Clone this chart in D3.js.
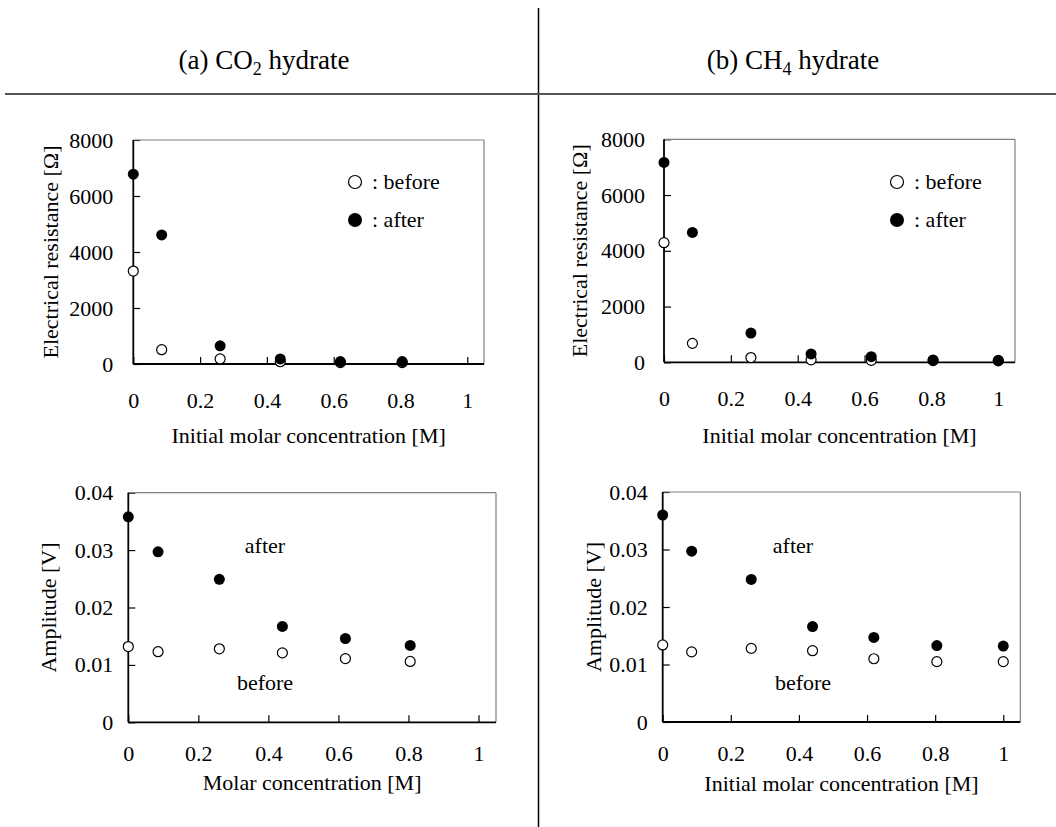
<!doctype html>
<html lang="en">
<head>
  <meta charset="utf-8">
  <title>Hydrate resistance and amplitude</title>
  <script type="text/javascript" src="https://cdnjs.cloudflare.com/ajax/libs/d3/7.8.5/d3.min.js"></script>
  <style>
    body { margin: 0; background: #fff; }
    text { font-family: "Liberation Serif", "Times New Roman", serif; fill: #000; }
  </style>
</head>
<body>
  <svg width="1056" height="827" id="svg"></svg>

<script type="text/javascript">

	// concentrations [M]
	var concA = [0, 0.085, 0.26, 0.44, 0.62, 0.805];
	var concB = [0, 0.085, 0.26, 0.44, 0.62, 0.805, 1.0];

	// electrical resistance [ohm]
	var resCO2Before = [3320, 510, 180, 80, 50, 50];
	var resCO2After  = [6780, 4610, 650, 180, 85, 85];
	var resCH4Before = [4290, 680, 170, 90, 70, 60, 50];
	var resCH4After  = [7170, 4660, 1050, 300, 200, 85, 70];

	// amplitude [V]
	var ampCO2Before = [0.0132, 0.0123, 0.0128, 0.0121, 0.0111, 0.0106];
	var ampCO2After  = [0.0358, 0.0297, 0.0249, 0.0167, 0.0146, 0.0134];
	var ampCH4Before = [0.0134, 0.0122, 0.0128, 0.0124, 0.0110, 0.0105, 0.0105];
	var ampCH4After  = [0.0360, 0.0297, 0.0248, 0.0166, 0.0147, 0.0133, 0.0132];

	var xTicks = [0, 0.2, 0.4, 0.6, 0.8, 1];
	var xTickLabels = ['0', '0.2', '0.4', '0.6', '0.8', '1'];
	var resTicks = [0, 2000, 4000, 6000, 8000];
	var ampTicks = [0, 0.01, 0.02, 0.03, 0.04];
	var ampTickLabels = ['0', '0.01', '0.02', '0.03', '0.04'];

	var svg = d3.select('#svg');

	// panel frames
	svg.append('line').attr('x1', 538.5).attr('x2', 538.5).attr('y1', 8).attr('y2', 827)
		.attr('stroke', '#000').attr('stroke-width', 1.5);
	svg.append('line').attr('x1', 5).attr('x2', 1056).attr('y1', 94).attr('y2', 94)
		.attr('stroke', '#555').attr('stroke-width', 2);

	function header(cx, pre, sub, post) {
		var t = svg.append('text').attr('x', cx).attr('y', 69)
			.attr('text-anchor', 'middle').style('font-size', '27px');
		t.append('tspan').text(pre);
		t.append('tspan').attr('dy', 6).style('font-size', '18px').text(sub);
		t.append('tspan').attr('dy', -6).text(post);
	}
	header(264, '(a) CO', '2', ' hydrate');
	header(793, '(b) CH', '4', ' hydrate');

	function panel(opt) {
		var x = d3.scaleLinear().domain([0, 1.05]).range([opt.left, opt.right]);
		var y = d3.scaleLinear().domain([0, opt.ymax]).range([opt.bottom, opt.top]);
		var g = svg.append('g');

		// x axis
		g.append('g')
			.attr('transform', 'translate(0,' + opt.bottom + ')')
			.call(d3.axisBottom(x).tickValues(xTicks)
				.tickFormat(function(d, i) { return xTickLabels[i]; })
				.tickSizeInner(-7).tickSizeOuter(0).tickPadding(opt.xpad))
			.call(function(a) {
				a.select('.domain').remove();
				a.selectAll('line').attr('stroke', '#000').attr('stroke-width', 1.2);
				a.selectAll('text').style('font-size', '22px');
			});

		// y axis
		g.append('g')
			.attr('transform', 'translate(' + opt.left + ',0)')
			.call(d3.axisLeft(y).tickValues(opt.yticks)
				.tickFormat(function(d, i) { return opt.ylabels[i]; })
				.tickSizeInner(-7).tickSizeOuter(0).tickPadding(opt.ypad))
			.call(function(a) {
				a.select('.domain').remove();
				a.selectAll('line').attr('stroke', '#000').attr('stroke-width', 1.2);
				a.selectAll('text').style('font-size', '22px');
			});

		// box: top and right grey, left and bottom black
		g.append('line').attr('x1', opt.left).attr('x2', opt.right).attr('y1', opt.top).attr('y2', opt.top)
			.attr('stroke', '#808080').attr('stroke-width', 1.2);
		g.append('line').attr('x1', opt.right).attr('x2', opt.right).attr('y1', opt.top).attr('y2', opt.bottom)
			.attr('stroke', '#808080').attr('stroke-width', 1.2);
		g.append('line').attr('x1', opt.left).attr('x2', opt.left).attr('y1', opt.top).attr('y2', opt.bottom)
			.attr('stroke', '#000').attr('stroke-width', 1.8);
		g.append('line').attr('x1', opt.left).attr('x2', opt.right).attr('y1', opt.bottom).attr('y2', opt.bottom)
			.attr('stroke', '#000').attr('stroke-width', 1.8);

		// axis titles
		g.append('text')
			.attr('x', (opt.left + opt.right) / 2).attr('y', opt.xtitleY)
			.attr('text-anchor', 'middle').style('font-size', '22px')
			.text(opt.xtitle);
		g.append('text')
			.attr('transform', 'translate(' + opt.ytitleX + ',' + (opt.top + opt.bottom) / 2 + ') rotate(-90)')
			.attr('text-anchor', 'middle').style('font-size', '22px')
			.text(opt.ytitle);

		// points
		g.selectAll('circle.before')
			.data(opt.before)
			.enter()
			.append('circle')
			.attr('class', 'before')
			.attr('cx', function(d, i) { return x(opt.conc[i]); })
			.attr('cy', function(d) { return y(d); })
			.attr('r', 5)
			.attr('fill', '#fff').attr('stroke', '#000').attr('stroke-width', 1.2);

		g.selectAll('circle.after')
			.data(opt.after)
			.enter()
			.append('circle')
			.attr('class', 'after')
			.attr('cx', function(d, i) { return x(opt.conc[i]); })
			.attr('cy', function(d) { return y(d); })
			.attr('r', 5.5)
			.attr('fill', '#000');

		return {g: g, x: x, y: y};
	}

	function legend(g, cx) {
		g.append('circle').attr('cx', cx).attr('cy', 182).attr('r', 6.5)
			.attr('fill', '#fff').attr('stroke', '#000').attr('stroke-width', 1.2);
		g.append('text').attr('x', cx + 17).attr('y', 189).style('font-size', '22px').text(': before');
		g.append('circle').attr('cx', cx).attr('cy', 220).attr('r', 7).attr('fill', '#000');
		g.append('text').attr('x', cx + 17).attr('y', 227).style('font-size', '22px').text(': after');
	}

	function inlineLabels(g, ax, bx) {
		g.append('text').attr('x', ax).attr('y', 553).attr('text-anchor', 'middle')
			.style('font-size', '22px').text('after');
		g.append('text').attr('x', bx).attr('y', 690).attr('text-anchor', 'middle')
			.style('font-size', '22px').text('before');
	}

	var p1 = panel({left: 133.3, right: 484, top: 140, bottom: 364, ymax: 8000,
		yticks: resTicks, ylabels: resTicks.map(String), xpad: 28, ypad: 20,
		conc: concA, before: resCO2Before, after: resCO2After,
		xtitle: 'Initial molar concentration [M]', xtitleY: 443,
		ytitle: 'Electrical resistance [\u03A9]', ytitleX: 58});
	legend(p1.g, 355);

	var p2 = panel({left: 664, right: 1015, top: 139.3, bottom: 362.3, ymax: 8000,
		yticks: resTicks, ylabels: resTicks.map(String), xpad: 28, ypad: 19,
		conc: concB, before: resCH4Before, after: resCH4After,
		xtitle: 'Initial molar concentration [M]', xtitleY: 443,
		ytitle: 'Electrical resistance [\u03A9]', ytitleX: 587});
	legend(p2.g, 897);

	var p3 = panel({left: 128.3, right: 496, top: 492.7, bottom: 722.3, ymax: 0.04,
		yticks: ampTicks, ylabels: ampTickLabels, xpad: 23, ypad: 15,
		conc: concA, before: ampCO2Before, after: ampCO2After,
		xtitle: 'Molar concentration [M]', xtitleY: 790,
		ytitle: 'Amplitude [V]', ytitleX: 56});
	inlineLabels(p3.g, 265, 265);

	var p4 = panel({left: 662.7, right: 1020.3, top: 492, bottom: 722, ymax: 0.04,
		yticks: ampTicks, ylabels: ampTickLabels, xpad: 23, ypad: 15,
		conc: concB, before: ampCH4Before, after: ampCH4After,
		xtitle: 'Initial molar concentration [M]', xtitleY: 791,
		ytitle: 'Amplitude [V]', ytitleX: 601});
	inlineLabels(p4.g, 793, 803);

</script>
</body>
</html>
